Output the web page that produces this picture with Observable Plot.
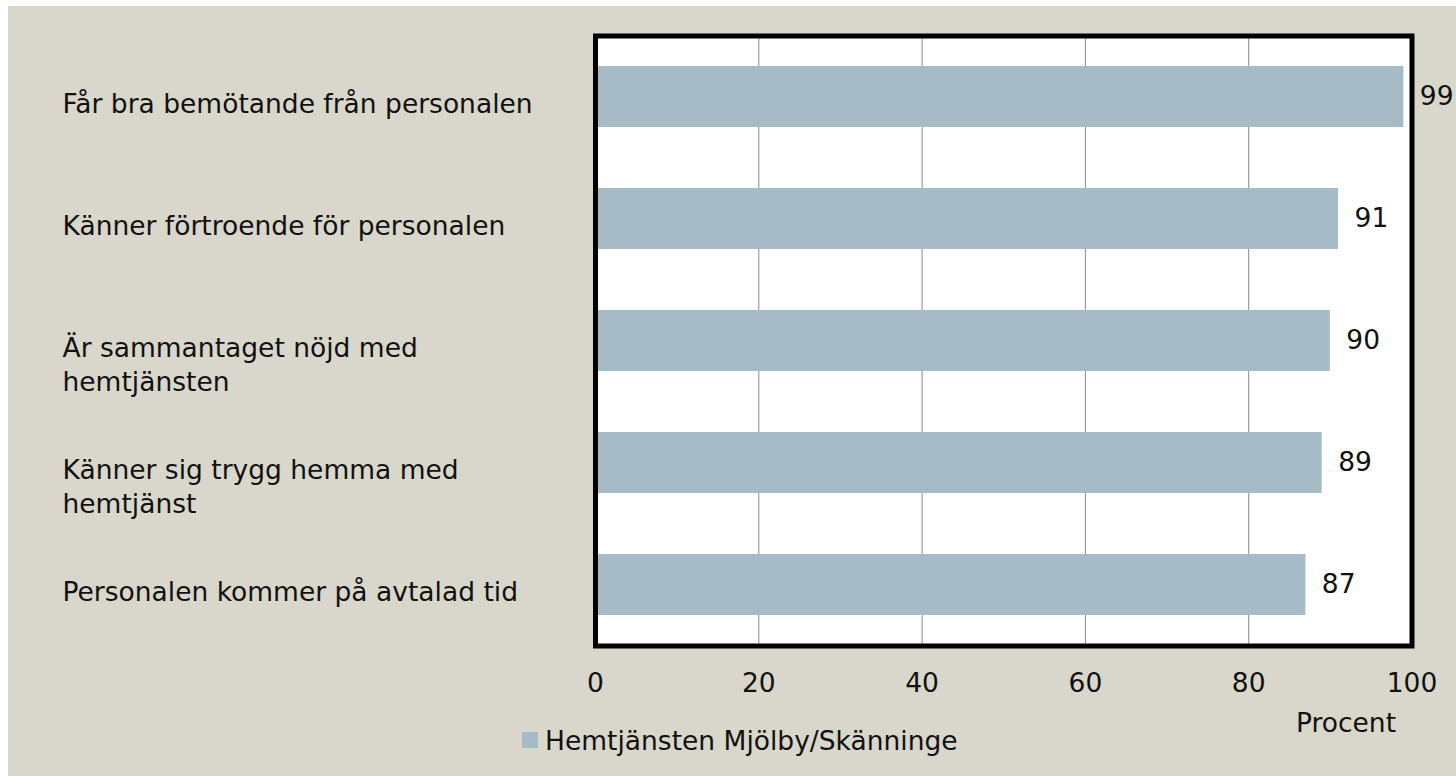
<!DOCTYPE html>
<html>
<head>
<meta charset="utf-8">
<script src="https://cdn.jsdelivr.net/npm/d3@7"></script>
<script src="https://cdn.jsdelivr.net/npm/@observablehq/plot@0.6"></script>
<style>
  html, body { margin: 0; padding: 0; background: #ffffff; }
  #wrap { position: relative; width: 1456px; height: 776px; background: #ffffff; overflow: hidden; font-family: "DejaVu Sans", sans-serif; }
  #bg { position: absolute; left: 8px; top: 6px; width: 1448px; height: 770px; background: #d9d7cb; }
  #chart { position: absolute; left: 0; top: 0; }
  #legend { position: absolute; left: 522px; top: 725px; height: 30px; display: flex; align-items: center; font-size: 26.5px; color: #111; }
  #legend .sw { width: 16px; height: 16px; background: #a7bbc7; margin-right: 7px; }
</style>
</head>
<body>
<div id="wrap">
  <div id="bg"></div>
  <div id="chart"></div>
  <div id="legend"><span class="sw"></span><span id="legtext"></span></div>
</div>
<script>
const categories = [
  "Får bra bemötande från personalen",
  "Känner förtroende för personalen",
  "Är sammantaget nöjd med\nhemtjänsten",
  "Känner sig trygg hemma med\nhemtjänst",
  "Personalen kommer på avtalad tid"
];
const values = [99, 91, 90, 89, 87];
const xTicks = [0, 20, 40, 60, 80, 100];
const seriesName = "Hemtjänsten Mjölby/Skänninge";
const axisTitle = "Procent";

const data = categories.map((c, i) => ({label: c, value: values[i]}));
const FS = 26.5;

const plot = Plot.plot({
  width: 1456,
  height: 776,
  marginLeft: 595,
  marginRight: 44.5,
  marginTop: 35.5,
  marginBottom: 130.5,
  style: {fontFamily: "DejaVu Sans, sans-serif", fontSize: FS + "px", color: "#111", background: "transparent", overflow: "visible"},
  x: {domain: [0, 100], axis: null},
  y: {domain: categories, paddingInner: 0.5, paddingOuter: 0.25, axis: null},
  marks: [
    Plot.frame({fill: "#ffffff"}),
    Plot.gridX(xTicks.filter(t => t > 0 && t < 100), {stroke: "#8a8a8a", strokeOpacity: 1, strokeWidth: 1}),
    Plot.barX(data, {x: "value", y: "label", fill: "#a7bbc7"}),
    Plot.frame({stroke: "#000", strokeWidth: 5}),
    Plot.text(data, {x: "value", y: "label", text: d => String(d.value), textAnchor: "start", dx: 16, fontSize: FS, fill: "#111"}),
    Plot.axisX(xTicks, {tickSize: 0, tickPadding: 27, fontSize: FS, label: null, fill: "#111"}),
    Plot.text(data, {y: "label", text: "label", frameAnchor: "left", dx: -533, textAnchor: "start", lineAnchor: "top", dy: -8.5, fontSize: FS, lineHeight: 1.28, fill: "#111"}),
    Plot.text([axisTitle], {frameAnchor: "bottom-right", text: d => d, textAnchor: "middle", dx: -66, dy: 86, fontSize: FS, fill: "#111"})
  ]
});
document.getElementById("chart").appendChild(plot);
document.getElementById("legtext").textContent = seriesName;
</script>
</body>
</html>
